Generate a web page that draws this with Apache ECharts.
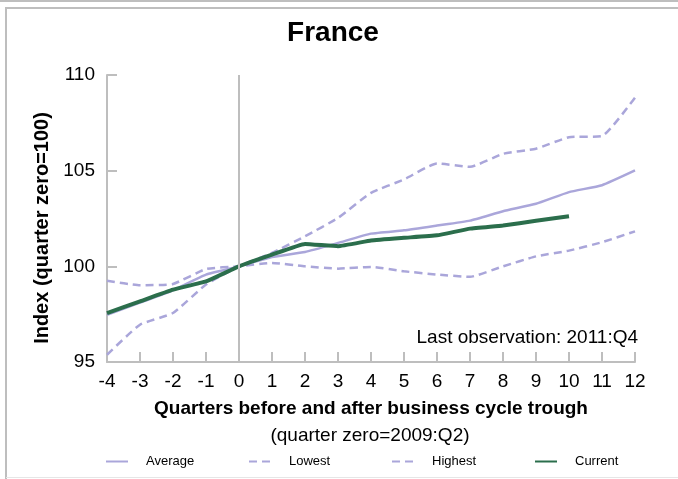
<!DOCTYPE html>
<html>
<head>
<meta charset="utf-8">
<script src="https://cdn.jsdelivr.net/npm/echarts@6/dist/echarts.min.js"></script>
<style>
html,body{margin:0;padding:0;background:#fff;}
#chart{width:678px;height:479px;}
</style>
</head>
<body>
<div id="chart"></div>
<script>
var quarters = ['-4','-3','-2','-1','0','1','2','3','4','5','6','7','8','9','10','11','12'];
var yTicks = [95, 100, 105, 110];
var averageVals = [97.47, 98.10, 98.75, 99.57, 100, 100.49, 100.75, 101.22, 101.71, 101.88, 102.13, 102.39, 102.88, 103.27, 103.88, 104.24, 105.01];
var lowestVals  = [99.25, 99.01, 99.08, 99.86, 100, 100.18, 100.00, 99.88, 99.97, 99.74, 99.57, 99.45, 100.00, 100.52, 100.82, 101.26, 101.83];
var highestVals = [95.38, 96.95, 97.56, 99.05, 100, 100.70, 101.57, 102.53, 103.84, 104.54, 105.38, 105.20, 105.88, 106.15, 106.75, 106.81, 108.82];
var currentVals = [97.56, 98.17, 98.78, 99.21, 100, 100.61, 101.17, 101.05, 101.35, 101.49, 101.62, 101.97, 102.13, 102.38, 102.62];

var LAV = '#aaa6da', GRN = '#2b6e4c', AX = '#bebebe';
var FONT = '"Liberation Sans", Arial, sans-serif';

var chart = echarts.init(document.getElementById('chart'), null, {renderer: 'canvas'});

function legendAt(name, left) {
  return {
    data: [name], left: left, top: 455, padding: 0, itemWidth: 22, itemHeight: 14,
    itemStyle: {opacity: 0},
    textStyle: {fontFamily: FONT, fontSize: 13, color: '#000', padding: [2, 0, 0, 13]},
    selectedMode: false
  };
}

chart.setOption({
  animation: false,
  textStyle: {fontFamily: FONT},
  grid: {left: 107, right: 43, top: 75, bottom: 117, containLabel: false},
  legend: [
    legendAt('Average', 105),
    legendAt('Lowest', 248),
    legendAt('Highest', 391),
    legendAt('Current', 534)
  ],
  xAxis: {
    type: 'category', data: quarters, boundaryGap: false,
    axisLine: {lineStyle: {color: AX, width: 2}},
    axisTick: {inside: true, length: 10, lineStyle: {color: AX, width: 2}, alignWithLabel: true},
    axisLabel: {color: '#000', fontSize: 19, fontFamily: FONT, margin: 10, interval: 0},
    splitLine: {show: false},
    name: 'Quarters before and after business cycle trough',
    nameLocation: 'middle', nameGap: 37,
    nameTextStyle: {fontFamily: FONT, fontSize: 19, fontWeight: 'bold', color: '#000'}
  },
  yAxis: {
    type: 'value', min: 95, max: 110, interval: 5,
    axisLine: {show: true, lineStyle: {color: AX, width: 2}},
    axisTick: {show: true, inside: true, length: 10, lineStyle: {color: AX, width: 2}},
    axisLabel: {color: '#000', fontSize: 19, fontFamily: FONT, margin: 12,
      formatter: function (v) { return yTicks.indexOf(v) >= 0 ? String(v) : ''; }},
    splitLine: {show: false}
  },
  graphic: [
    {type: 'line', shape: {x1: 0, y1: 1, x2: 678, y2: 1}, style: {stroke: AX, lineWidth: 2}, silent: true},
    {type: 'line', shape: {x1: 5, y1: 8, x2: 678, y2: 8}, style: {stroke: AX, lineWidth: 2}, silent: true},
    {type: 'line', shape: {x1: 6, y1: 7, x2: 6, y2: 479}, style: {stroke: AX, lineWidth: 2}, silent: true},
    {type: 'line', shape: {x1: 6, y1: 477.5, x2: 678, y2: 477.5}, style: {stroke: '#e6e6e6', lineWidth: 1}, silent: true},
    {type: 'text', x: 333, y: 33, style: {text: 'France', fontFamily: FONT, fontSize: 28, fontWeight: 'bold', fill: '#000', textAlign: 'center', textVerticalAlign: 'middle'}},
    {type: 'text', x: 42, y: 228, rotation: Math.PI / 2, style: {text: 'Index (quarter zero=100)', fontFamily: FONT, fontSize: 20, fontWeight: 'bold', fill: '#000', textAlign: 'center', textVerticalAlign: 'middle'}},
    {type: 'text', x: 370, y: 436, style: {text: '(quarter zero=2009:Q2)', fontFamily: FONT, fontSize: 19, fill: '#000', textAlign: 'center', textVerticalAlign: 'middle'}},
    {type: 'text', x: 638, y: 338, style: {text: 'Last observation: 2011:Q4', fontFamily: FONT, fontSize: 19, fill: '#000', textAlign: 'right', textVerticalAlign: 'middle'}}
  ],
  series: [
    {name: 'Average', type: 'line', data: averageVals, symbol: 'none', smooth: 0.15,
      lineStyle: {color: LAV, width: 2.5}, itemStyle: {color: LAV}, z: 3,
      markLine: {silent: true, symbol: 'none', label: {show: false},
        lineStyle: {color: AX, width: 2, type: 'solid'}, data: [{xAxis: '0'}]}},
    {name: 'Lowest', type: 'line', data: lowestVals, symbol: 'none', smooth: 0.15,
      lineStyle: {color: LAV, width: 2.5, type: [8, 5]}, itemStyle: {color: LAV}, z: 3},
    {name: 'Highest', type: 'line', data: highestVals, symbol: 'none', smooth: 0.15,
      lineStyle: {color: LAV, width: 2.5, type: [8, 5]}, itemStyle: {color: LAV}, z: 3},
    {name: 'Current', type: 'line', data: currentVals, symbol: 'none', smooth: 0.1,
      lineStyle: {color: GRN, width: 4}, itemStyle: {color: GRN}, z: 4}
  ]
});
</script>
</body>
</html>
